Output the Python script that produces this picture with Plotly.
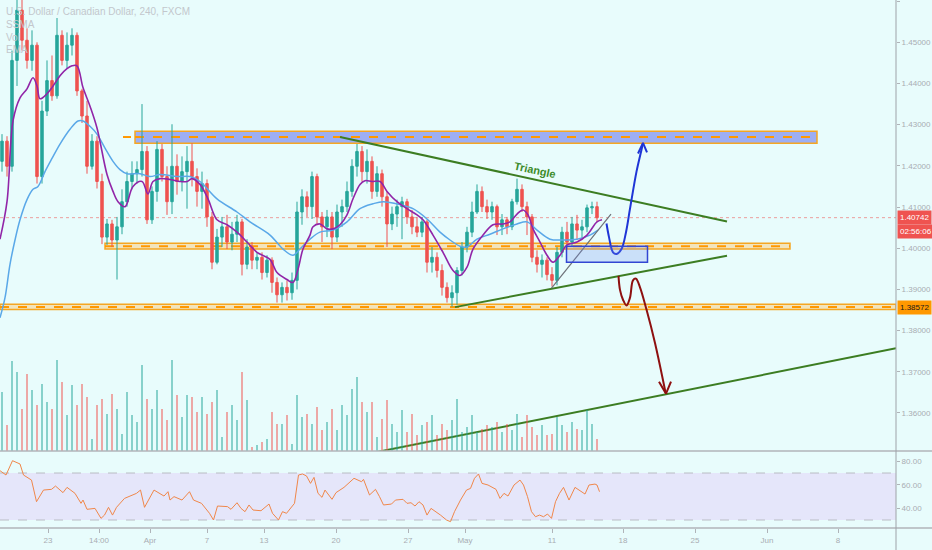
import plotly.graph_objects as go

# ---------------- data (USD/CAD 4h) ----------------
opens = [1.4211,1.4260,1.4199,1.4456,1.4578,1.4505,1.4456,1.4493,1.4174,1.4333,
         1.4407,1.4370,1.4517,1.4456,1.4493,1.4517,1.4382,1.4321,1.4199,1.4260,
         1.4162,1.4027,1.4059,1.4020,1.4052,1.4113,1.4162,1.4181,1.4191,1.4235,
         1.4069,1.4138,1.4240,1.4174,1.4113,1.4199,1.4162,1.4186,1.4211,1.4174,
         1.4138,1.4157,1.4076,1.3966,1.4027,1.4052,1.4015,1.4034,1.4064,1.3961,
         1.4003,1.3971,1.3978,1.3941,1.3971,1.3917,1.3887,1.3905,1.3892,1.3922,
         1.4088,1.4125,1.4101,1.4174,1.4076,1.4052,1.4076,1.4027,1.4088,1.4101,
         1.4138,1.4199,1.4235,1.4186,1.4211,1.4138,1.4181,1.4125,1.4059,1.4083,
         1.4101,1.4113,1.4076,1.4052,1.4039,1.4064,1.3966,1.3978,1.3946,1.3905,
         1.3880,1.3892,1.3946,1.4003,1.4039,1.4088,1.4138,1.4101,1.4088,1.4101,
         1.4052,1.4069,1.4052,1.4113,1.4143,1.4101,1.4076,1.3978,1.3961,1.3971,
         1.3936,1.3922,1.3990,1.4039,1.4015,1.4059,1.4044,1.4052,1.4098,1.4101]
closes = [1.4260,1.4199,1.4456,1.4578,1.4505,1.4456,1.4493,1.4174,1.4333,1.4407,
          1.4370,1.4517,1.4456,1.4493,1.4517,1.4382,1.4321,1.4199,1.4260,1.4162,
          1.4027,1.4059,1.4020,1.4052,1.4113,1.4162,1.4181,1.4191,1.4235,1.4069,
          1.4138,1.4240,1.4174,1.4113,1.4199,1.4162,1.4186,1.4211,1.4174,1.4138,
          1.4157,1.4076,1.3966,1.4027,1.4052,1.4015,1.4034,1.4064,1.3961,1.4003,
          1.3971,1.3978,1.3941,1.3971,1.3917,1.3887,1.3905,1.3892,1.3922,1.4088,
          1.4125,1.4101,1.4174,1.4076,1.4052,1.4076,1.4027,1.4088,1.4101,1.4138,
          1.4199,1.4235,1.4186,1.4211,1.4138,1.4181,1.4125,1.4059,1.4083,1.4101,
          1.4113,1.4076,1.4052,1.4039,1.4064,1.3966,1.3978,1.3946,1.3905,1.3880,
          1.3892,1.3946,1.4003,1.4039,1.4088,1.4138,1.4101,1.4088,1.4101,1.4052,
          1.4069,1.4052,1.4113,1.4143,1.4101,1.4076,1.3978,1.3961,1.3971,1.3936,
          1.3922,1.3990,1.4039,1.4015,1.4059,1.4044,1.4052,1.4098,1.4101,1.4074]
highs = [1.4277,1.4272,1.4480,1.4627,1.4640,1.4534,1.4529,1.4500,1.4358,1.4456,
         1.4468,1.4559,1.4529,1.4524,1.4534,1.4524,1.4387,1.4358,1.4277,1.4272,
         1.4181,1.4071,1.4069,1.4076,1.4143,1.4186,1.4211,1.4211,1.4350,1.4248,
         1.4150,1.4260,1.4253,1.4199,1.4301,1.4228,1.4223,1.4248,1.4255,1.4194,
         1.4186,1.4167,1.4088,1.4047,1.4076,1.4081,1.4064,1.4081,1.4071,1.4022,
         1.4015,1.3990,1.3990,1.3983,1.3978,1.3929,1.3917,1.3922,1.3941,1.4113,
         1.4143,1.4138,1.4186,1.4181,1.4088,1.4093,1.4088,1.4106,1.4118,1.4162,
         1.4216,1.4253,1.4248,1.4240,1.4223,1.4199,1.4191,1.4138,1.4101,1.4118,
         1.4125,1.4120,1.4093,1.4076,1.4076,1.4069,1.4003,1.3990,1.3961,1.3917,
         1.3910,1.3954,1.4015,1.4052,1.4113,1.4155,1.4150,1.4118,1.4113,1.4106,
         1.4083,1.4076,1.4120,1.4169,1.4155,1.4113,1.4083,1.3995,1.3985,1.3978,
         1.3954,1.4003,1.4052,1.4064,1.4076,1.4081,1.4069,1.4106,1.4113,1.4113]
lows = [1.4186,1.4174,1.4186,1.4394,1.4480,1.4436,1.4431,1.4157,1.4157,1.4321,
        1.4358,1.4363,1.4444,1.4436,1.4468,1.4370,1.4304,1.4181,1.4191,1.4145,
        1.4010,1.4008,1.4003,1.3924,1.4034,1.4101,1.4143,1.4157,1.4174,1.4059,
        1.4059,1.4113,1.4162,1.4081,1.4083,1.4130,1.4138,1.4096,1.4150,1.4101,
        1.4096,1.4052,1.3949,1.3961,1.4003,1.3998,1.3995,1.4015,1.3934,1.3949,
        1.3949,1.3949,1.3924,1.3929,1.3892,1.3868,1.3868,1.3873,1.3875,1.3900,
        1.4057,1.4076,1.4071,1.4059,1.4015,1.4027,1.3998,1.4015,1.4052,1.4088,
        1.4125,1.4174,1.4162,1.4157,1.4120,1.4125,1.4101,1.4003,1.4044,1.4052,
        1.4022,1.4059,1.4034,1.4027,1.4027,1.3941,1.3941,1.3929,1.3885,1.3868,
        1.3858,1.3863,1.3934,1.3990,1.4027,1.4083,1.4088,1.4071,1.4069,1.4032,
        1.4032,1.4034,1.4044,1.4106,1.4088,1.4032,1.3966,1.3941,1.3929,1.3922,
        1.3907,1.3910,1.3978,1.3998,1.4003,1.4022,1.4025,1.4039,1.4083,1.4064]
volumes = [59,26,90,79,42,77,61,46,67,49,42,91,69,36,66,46,67,54,12,46,
           52,37,57,42,17,59,36,29,86,52,42,61,42,31,91,56,34,56,54,39,
           54,37,49,61,14,39,46,31,79,51,4,6,9,12,39,27,27,36,7,56,
           34,37,27,44,21,29,42,21,46,36,62,74,49,39,49,14,32,51,27,19,
           41,19,37,16,26,29,36,16,27,21,31,52,19,24,36,19,22,26,24,29,
           19,27,21,37,14,36,24,16,26,16,17,34,26,19,29,22,21,41,27,12]

ma_fast_x = [-0.4,1.0,2.2,3.6,5.0,6.2,7.0,7.6,9.0,10.0,11.6,13.0,14.0,15.0,16.2,17.6,19.0,21.0,
             22.2,23.2,24.6,26.2,28.0,29.2,30.2,31.6,33.6,35.6,37.0,38.0,39.6,41.2,43.0,45.0,
             47.0,49.0,51.0,53.6,55.0,57.0,58.2,59.2,60.2,61.6,62.2,63.6,65.0,66.2,67.6,69.0,
             70.2,71.6,72.6,74.0,75.6,77.0,79.0,81.0,83.0,84.2,86.2,88.2,90.2,91.6,93.0,94.2,
             96.2,98.2,100.2,101.6,103.0,104.2,105.2,106.2,107.6,109.0,110.2,111.6,113.0,
             115.0,117.0,119.0,120.0]
ma_fast_y = [1.4022,1.4113,1.4309,1.4365,1.4387,1.4414,1.4394,1.4363,1.4375,1.4390,1.4419,1.4436,
             1.4443,1.4443,1.4390,1.4345,1.4292,1.4179,1.4138,1.4113,1.4101,1.4150,1.4162,1.4132,
             1.4162,1.4169,1.4167,1.4162,1.4162,1.4169,1.4155,1.4120,1.4069,1.4057,1.4039,1.4015,
             1.3990,1.3973,1.3941,1.3924,1.3917,1.3949,1.3998,1.4032,1.4052,1.4059,1.4047,1.4047,
             1.4057,1.4081,1.4120,1.4155,1.4164,1.4162,1.4162,1.4138,1.4113,1.4096,1.4081,1.4069,
             1.4032,1.3990,1.3946,1.3934,1.3954,1.3998,1.4032,1.4057,1.4059,1.4064,1.4083,1.4093,
             1.4081,1.4047,1.4015,1.3983,1.3966,1.3983,1.4008,1.4015,1.4032,1.4064,1.4069]
ma_slow_x = [-0.4,0.6,1.6,2.6,3.6,5.0,6.2,7.2,8.6,10.0,11.6,13.6,15.2,16.2,17.6,19.0,20.6,22.2,
             23.6,25.0,27.6,29.6,31.6,35.0,37.6,39.6,43.0,47.0,49.6,53.6,56.2,58.2,59.6,61.6,
             63.6,66.2,69.0,71.6,74.2,76.2,79.6,82.2,85.0,87.6,89.6,91.6,93.0,95.0,97.6,100.2,
             103.0,105.0,107.0,109.6,112.2,115.0,117.6,119.2]
ma_slow_y = [1.3831,1.3880,1.3961,1.4020,1.4069,1.4118,1.4143,1.4150,1.4186,1.4218,1.4253,1.4289,
             1.4309,1.4309,1.4296,1.4277,1.4243,1.4211,1.4191,1.4181,1.4181,1.4174,1.4179,1.4174,
             1.4174,1.4162,1.4120,1.4088,1.4064,1.4032,1.3998,1.3983,1.3998,1.4022,1.4039,1.4044,
             1.4064,1.4096,1.4108,1.4113,1.4106,1.4096,1.4071,1.4039,1.4020,1.4005,1.4003,1.4022,
             1.4034,1.4047,1.4059,1.4064,1.4044,1.4022,1.4020,1.4022,1.4032,1.4044]

rsi_x = [-0.4,0.8,2.1,3.6,4.3,5.9,6.9,8.3,9.9,10.7,12.2,13.0,14.6,15.8,16.2,17.0,18.6,19.8,20.5,
         21.3,22.1,22.9,24.5,26.9,27.7,28.5,30.4,32.4,33.2,33.6,34.4,36.0,37.5,38.3,39.9,41.5,
         42.3,43.1,45.1,45.8,47.0,47.8,48.6,49.4,50.2,51.8,53.4,54.1,55.3,56.1,56.9,58.5,59.3,
         60.1,60.9,61.7,62.4,63.2,64.0,64.6,66.0,66.8,68.4,69.2,70.4,71.9,72.3,73.5,74.7,75.5,
         76.3,77.9,78.7,80.2,81.0,81.8,82.6,83.4,84.2,85.0,85.8,87.7,88.9,89.7,90.5,91.7,92.9,
         93.7,94.5,95.3,96.0,97.2,98.8,99.6,100.4,101.2,102.4,103.6,104.3,105.1,105.9,106.7,
         107.5,108.3,109.1,109.9,110.7,111.5,112.3,113.4,114.6,116.6,117.4,118.6,119.0,119.5]
rsi_y = [72.0,68.3,80.5,77.7,68.3,64.0,45.6,55.5,56.1,58.9,53.3,57.8,52.7,44.2,47.0,39.1,39.9,
         31.4,34.2,40.8,34.2,40.8,48.4,52.7,55.5,40.8,55.5,50.4,54.1,47.0,49.9,47.0,54.1,47.0,
         44.2,35.7,30.0,41.9,41.4,39.1,44.7,39.9,37.1,42.8,38.5,37.9,43.6,35.7,30.0,37.1,35.7,
         44.2,68.3,69.2,67.5,61.2,66.3,52.7,49.3,55.5,47.6,53.3,57.8,60.6,65.5,62.6,64.6,51.3,
         56.1,49.9,42.8,43.6,47.0,47.6,44.2,44.7,41.9,45.6,42.8,34.2,39.9,34.2,30.0,28.6,37.1,
         47.0,55.5,56.9,65.5,69.2,61.2,59.8,56.1,48.4,52.7,50.4,59.8,64.0,59.8,49.9,37.1,32.8,
         34.2,32.8,35.1,31.4,45.6,52.7,57.8,47.0,57.8,52.1,59.8,60.6,59.8,54.1]

price_ticks = [1.35, 1.36, 1.37, 1.38, 1.39, 1.40, 1.41, 1.42, 1.43, 1.44, 1.45, 1.46]
rsi_ticks = [40, 60, 80]
date_pos = [9.2, 19.4, 29.6, 41.0, 52.4, 66.8, 81.2, 92.6, 110.0, 124.2, 138.6, 153.0, 167.2]
date_labels = ["23", "14:00", "Apr", "7", "13", "20", "27", "May", "11", "18", "25", "Jun", "8"]

last_price = 1.40742
support_price = 1.38572

# drawing anchors (x in bar units, y in price)
upper_zone = dict(x0=26.6, x1=163.0, y0=1.4255, y1=1.4284, mid=1.4270)
mid_zone = dict(x0=20.6, x1=157.6, y0=1.3998, y1=1.4012, mid=1.4005)
low_zone = dict(x0=-0.4, x1=178.8, y0=1.3851, y1=1.3864)
tri_upper = ([67.6, 145.0], [1.4270, 1.4065])
tri_lower = ([90.6, 145.0], [1.3857, 1.3982])
trend_gray = ([109.9, 121.8], [1.3903, 1.4083])
vol_trend = ([72.0, 178.8], [1.3498, 1.3757])
blue_box = dict(x0=112.9, x1=129.1, y0=1.3966, y1=1.4005)
bull_path_x = [120.9, 121.4, 122.2, 122.9, 123.9, 124.8, 125.6, 126.9, 127.9, 128.2]
bull_path_y = [1.4060, 1.4027, 1.3990, 1.3986, 1.3998, 1.4039, 1.4096, 1.4186, 1.4239, 1.4255]
bull_head_x = [127.2, 128.2, 129.0]
bull_head_y = [1.4230, 1.4256, 1.4233]
bear_path_x = [123.3, 123.6, 124.2, 124.9, 125.6, 126.2, 126.8, 127.6, 128.9, 130.6, 132.7]
bear_path_y = [1.3933, 1.3899, 1.3875, 1.3861, 1.3880, 1.3922, 1.3926, 1.3905, 1.3851, 1.3770, 1.3650]
bear_head_x = [131.4, 132.8, 133.8]
bear_head_y = [1.3676, 1.3647, 1.3676]

# ---------------- figure ----------------
BG = "#e8fcfc"
UP = "#26a69a"
DN = "#ef5350"
TXT = "#a9adb3"
n = len(closes)
xs = list(range(n))

fig = go.Figure()

# RSI band
fig.add_shape(type="rect", xref="x", yref="y2", x0=-0.4, x1=178.8, y0=30, y1=70,
              fillcolor="rgba(215,110,240,0.15)", line_width=0, layer="below")
for lv in (30, 70):
    fig.add_shape(type="line", xref="x", yref="y2", x0=-0.4, x1=178.8, y0=lv, y1=lv,
                  line=dict(color="#b9bcc4", width=1, dash="dash"), layer="below")

# zones
def zone(z, fill):
    fig.add_shape(type="rect", xref="x", yref="y", x0=z["x0"], x1=z["x1"], y0=z["y0"], y1=z["y1"],
                  fillcolor=fill, line=dict(color="#f5a623", width=1.5), layer="below")

zone(upper_zone, "rgba(95,110,235,0.55)")
zone(mid_zone, "rgba(255,200,110,0.45)")
zone(low_zone, "rgba(255,200,110,0.45)")
for z in (upper_zone, mid_zone):
    fig.add_shape(type="line", xref="x", yref="y", x0=z["x0"], x1=z["x1"], y0=z["mid"], y1=z["mid"],
                  line=dict(color="#ff9800", width=2, dash="dash"), layer="below")
fig.add_shape(type="line", xref="x", yref="y", x0=low_zone["x0"], x1=low_zone["x1"],
              y0=support_price, y1=support_price,
              line=dict(color="#ff9800", width=2, dash="dash"), layer="below")
fig.add_shape(type="line", xref="x", yref="y", x0=24.2, x1=25.8, y0=upper_zone["mid"], y1=upper_zone["mid"],
              line=dict(color="#ff9800", width=2), layer="below")

# current price line
fig.add_shape(type="line", xref="x", yref="y", x0=-0.4, x1=178.8, y0=last_price, y1=last_price,
              line=dict(color="rgba(239,83,80,0.55)", width=1, dash="dot"), layer="below")

# volume
vcol = ["rgba(38,166,154,0.5)" if c >= o else "rgba(239,83,80,0.5)" for o, c in zip(opens, closes)]
fig.add_trace(go.Bar(x=xs, y=volumes, marker=dict(color=vcol, line_width=0), width=0.45,
                     xaxis="x", yaxis="y3", hoverinfo="skip"))

# candles
fig.add_trace(go.Candlestick(x=xs, open=opens, high=highs, low=lows, close=closes,
                             increasing=dict(line=dict(color=UP, width=1), fillcolor=UP),
                             decreasing=dict(line=dict(color=DN, width=1), fillcolor=DN),
                             whiskerwidth=0, xaxis="x", yaxis="y"))

# moving averages
fig.add_trace(go.Scatter(x=ma_slow_x, y=ma_slow_y, mode="lines", line=dict(color="#5aa8e8", width=1.5, shape="spline"),
                         xaxis="x", yaxis="y"))
fig.add_trace(go.Scatter(x=ma_fast_x, y=ma_fast_y, mode="lines", line=dict(color="#9125a8", width=1.6, shape="spline"),
                         xaxis="x", yaxis="y"))

# RSI
fig.add_trace(go.Scatter(x=rsi_x, y=rsi_y, mode="lines", line=dict(color="#f0874a", width=1),
                         xaxis="x", yaxis="y2"))

# drawings
def seg(xv, yv, color, width=2):
    fig.add_trace(go.Scatter(x=xv, y=yv, mode="lines", line=dict(color=color, width=width),
                             xaxis="x", yaxis="y", hoverinfo="skip"))

seg(*tri_upper, "#3c7d22")
seg(*tri_lower, "#3c7d22")
seg(*vol_trend, "#3c7d22")
seg(*trend_gray, "#6d7178", 1.2)
fig.add_shape(type="rect", xref="x", yref="y", x0=blue_box["x0"], x1=blue_box["x1"],
              y0=blue_box["y0"], y1=blue_box["y1"], fillcolor="rgba(110,140,240,0.25)",
              line=dict(color="#3346d3", width=1.5))
fig.add_trace(go.Scatter(x=bull_path_x, y=bull_path_y, mode="lines",
                         line=dict(color="#1f35d6", width=2, shape="spline"), xaxis="x", yaxis="y"))
seg(bull_head_x, bull_head_y, "#1f35d6")
fig.add_trace(go.Scatter(x=bear_path_x, y=bear_path_y, mode="lines",
                         line=dict(color="#8e1010", width=2, shape="spline"), xaxis="x", yaxis="y"))
seg(bear_head_x, bear_head_y, "#8e1010")

fig.add_annotation(x=106.6, y=1.4191, xref="x", yref="y", text="<b>Triangle</b>", showarrow=False,
                   textangle=12, font=dict(color="#3d8b2a", size=11, family="Liberation Sans"))

# legend-like texts top-left
for i, t in enumerate(["U.S. Dollar / Canadian Dollar, 240, FXCM", "SSMA", "Vol", "EMA"]):
    fig.add_annotation(x=0.005, y=1 - (12 + 12.5 * i) / 528, xref="paper", yref="paper", text=t,
                       showarrow=False, xanchor="left", yanchor="middle",
                       font=dict(color="#c3c7cc", size=10, family="Liberation Sans"))

# price labels on axis
fig.add_annotation(x=1, y=last_price, xref="paper", yref="y", text="1.40742", showarrow=False,
                   xanchor="left", xshift=1, bgcolor="#ef5350", font=dict(color="white", size=8),
                   borderpad=2)
fig.add_annotation(x=1, y=last_price, xref="paper", yref="y", text="02:56:06", showarrow=False,
                   xanchor="left", xshift=1, yshift=-14, bgcolor="#ef5350", font=dict(color="white", size=8),
                   borderpad=2)
fig.add_annotation(x=1, y=support_price, xref="paper", yref="y", text="1.38572", showarrow=False,
                   xanchor="left", xshift=1, bgcolor="#ff9800", font=dict(color="#1a1a1a", size=8),
                   borderpad=2)

# pane separators
H = 528.0
for yy in (77 / H, 0):
    fig.add_shape(type="line", xref="paper", yref="paper", x0=0, x1=932 / 896, y0=yy, y1=yy,
                  line=dict(color="#b2b5ba", width=1.5))
fig.add_shape(type="line", xref="paper", yref="paper", x0=1, x1=1, y0=-22 / H, y1=1,
              line=dict(color="#9ea2a8", width=1))

fig.update_layout(
    width=932, height=550, margin=dict(l=0, r=36, t=0, b=22, autoexpand=False),
    paper_bgcolor=BG, plot_bgcolor=BG, showlegend=False, bargap=0,
    font=dict(family="Liberation Sans", size=8, color=TXT),
    xaxis=dict(domain=[0, 1], range=[-0.4, 178.8], anchor="y2", tickvals=date_pos, ticktext=date_labels,
               ticks="outside", ticklen=4, tickcolor="#b0b4b9", showgrid=False, zeroline=False,
               showline=False, rangeslider=dict(visible=False), tickfont=dict(size=8, color=TXT),
               automargin=False),
    yaxis=dict(domain=[77 / H, 1], range=[1.35077, 1.46027], side="right", tickvals=price_ticks,
               ticktext=[f"{v:.5f}" for v in price_ticks], ticks="outside", ticklen=3, tickcolor="#b0b4b9",
               showgrid=False, zeroline=False, tickfont=dict(size=8, color=TXT), automargin=False),
    yaxis2=dict(domain=[0, 76 / H], range=[23.2, 87.9], side="right", tickvals=rsi_ticks,
                ticktext=[f"{v:.2f}" for v in rsi_ticks], ticks="outside", ticklen=3, tickcolor="#b0b4b9",
                showgrid=False, zeroline=False, tickfont=dict(size=8, color=TXT), automargin=False),
    yaxis3=dict(domain=[77 / H, 1], range=[0, 451], overlaying="y", visible=False, automargin=False),
)

fig.write_html("out.html", config={"displayModeBar": False},
               post_script="document.body.style.margin='0';document.body.style.background='" + BG + "';")
